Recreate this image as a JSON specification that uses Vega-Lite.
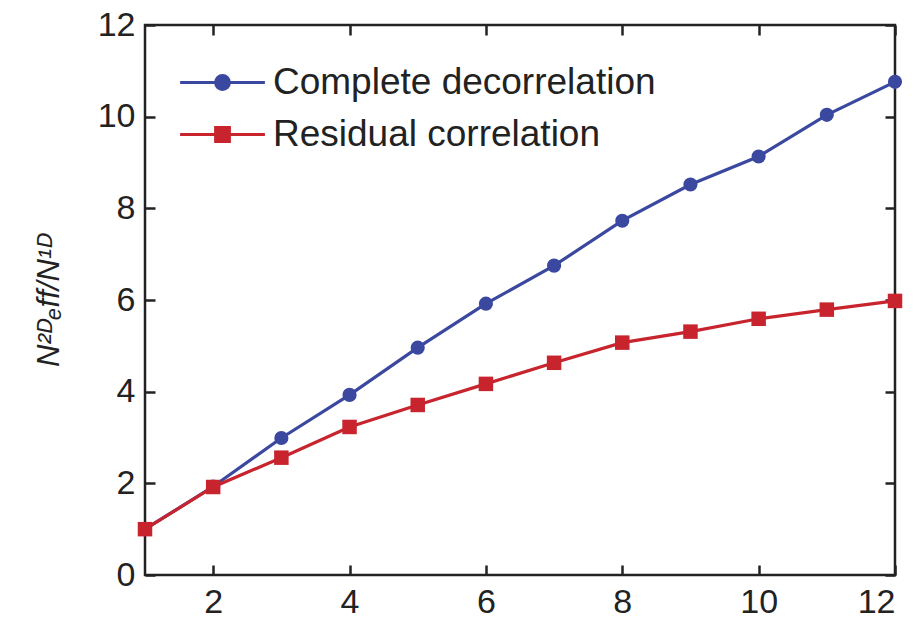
{
  "$schema": "https://vega.github.io/schema/vega-lite/v6.json",
  "autosize": "none",
  "width": 750,
  "height": 550,
  "padding": {"left": 145, "top": 25, "right": 23, "bottom": 52},
  "background": "white",
  "config": {
    "font": "Liberation Sans",
    "view": {"stroke": "#222222", "strokeWidth": 2.5},
    "axis": {"grid": false, "domain": false, "tickColor": "#222222", "tickWidth": 2.5, "tickSize": -10, "labelFont": "Liberation Sans", "labelColor": "#222222", "labelFontSize": 34, "titleFont": "Liberation Sans", "titleColor": "#222222"}
  },
  "data": {"values": [
    {"x": 1, "y": 1.0, "series": "Complete decorrelation"},
    {"x": 2, "y": 1.93, "series": "Complete decorrelation"},
    {"x": 3, "y": 2.99, "series": "Complete decorrelation"},
    {"x": 4, "y": 3.93, "series": "Complete decorrelation"},
    {"x": 5, "y": 4.96, "series": "Complete decorrelation"},
    {"x": 6, "y": 5.92, "series": "Complete decorrelation"},
    {"x": 7, "y": 6.75, "series": "Complete decorrelation"},
    {"x": 8, "y": 7.73, "series": "Complete decorrelation"},
    {"x": 9, "y": 8.52, "series": "Complete decorrelation"},
    {"x": 10, "y": 9.13, "series": "Complete decorrelation"},
    {"x": 11, "y": 10.04, "series": "Complete decorrelation"},
    {"x": 12, "y": 10.76, "series": "Complete decorrelation"},
    {"x": 1, "y": 1.0, "series": "Residual correlation"},
    {"x": 2, "y": 1.92, "series": "Residual correlation"},
    {"x": 3, "y": 2.56, "series": "Residual correlation"},
    {"x": 4, "y": 3.23, "series": "Residual correlation"},
    {"x": 5, "y": 3.71, "series": "Residual correlation"},
    {"x": 6, "y": 4.17, "series": "Residual correlation"},
    {"x": 7, "y": 4.63, "series": "Residual correlation"},
    {"x": 8, "y": 5.07, "series": "Residual correlation"},
    {"x": 9, "y": 5.31, "series": "Residual correlation"},
    {"x": 10, "y": 5.59, "series": "Residual correlation"},
    {"x": 11, "y": 5.79, "series": "Residual correlation"},
    {"x": 12, "y": 5.98, "series": "Residual correlation"}
  ]},
  "resolve": {"axis": {"x": "independent", "y": "independent"}},
  "layer": [
    {
      "mark": {"type": "line", "strokeWidth": 3.2},
      "encoding": {
        "x": {"field": "x", "type": "quantitative", "scale": {"domain": [1, 12], "nice": false, "zero": false},
              "axis": {"orient": "bottom", "values": [2, 4, 6, 8, 10, 12], "title": null, "labelPadding": 20}},
        "y": {"field": "y", "type": "quantitative", "scale": {"domain": [0, 12], "nice": false},
              "axis": {"orient": "left", "values": [0, 2, 4, 6, 8, 10, 12], "title": "N²ᴰₑff/N¹ᴰ", "titleFontSize": 31, "titleFontStyle": "italic", "titleFontWeight": "normal", "titlePadding": 32, "labelPadding": 20}},
        "color": {"field": "series", "type": "nominal",
                  "scale": {"domain": ["Complete decorrelation", "Residual correlation"], "range": ["#3a48a0", "#c8242e"]},
                  "legend": {
                    "orient": "none", "legendX": 59, "legendY": 39, "title": null,
                    "labelFontSize": 37, "labelColor": "#222222", "labelFont": "Liberation Sans", "labelLimit": 0,
                    "symbolSize": 256, "labelOffset": 32, "rowPadding": 14,
                    "encode": {"symbols": {"update": {
                      "shape": {"signal": "datum.value == 'Complete decorrelation' ? 'M-5.3,0H5.3M0.85,0A0.85,0.85,0,1,1,-0.85,0A0.85,0.85,0,1,1,0.85,0Z' : 'M-5.3,0H5.3M-0.85,-0.85H0.85V0.85H-0.85Z'"},
                      "fill": {"scale": "color", "field": "value"},
                      "stroke": {"scale": "color", "field": "value"},
                      "strokeWidth": {"value": 3.2},
                      "opacity": {"value": 1}
                    }}}
                  }}
      }
    },
    {
      "transform": [{"filter": "datum.series == 'Complete decorrelation'"}],
      "mark": {"type": "point", "shape": "circle", "filled": true, "opacity": 1, "size": 200},
      "encoding": {
        "x": {"field": "x", "type": "quantitative", "axis": {"orient": "top", "values": [2, 4, 6, 8, 10, 12], "labels": false, "title": null}},
        "y": {"field": "y", "type": "quantitative", "axis": {"orient": "right", "values": [0, 2, 4, 6, 8, 10, 12], "labels": false, "title": null}},
        "color": {"field": "series", "type": "nominal"}
      }
    },
    {
      "transform": [{"filter": "datum.series == 'Residual correlation'"}],
      "mark": {"type": "point", "shape": "square", "filled": true, "opacity": 1, "size": 210},
      "encoding": {
        "x": {"field": "x", "type": "quantitative", "axis": null},
        "y": {"field": "y", "type": "quantitative", "axis": null},
        "color": {"field": "series", "type": "nominal"}
      }
    }
  ]
}
